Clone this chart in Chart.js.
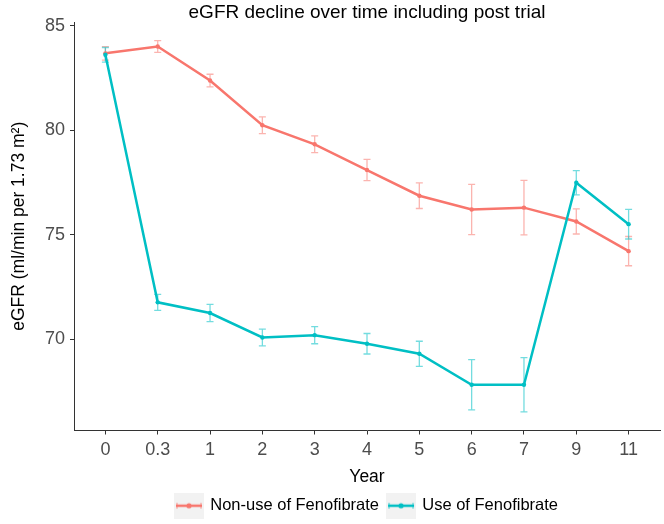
<!DOCTYPE html>
<html>
<head>
<meta charset="utf-8">
<script src="https://cdn.jsdelivr.net/npm/chart.js@4/dist/chart.umd.min.js"></script>
<style>
  html, body { margin: 0; padding: 0; background: #ffffff; }
  #wrap { width: 664px; height: 524px; }
</style>
</head>
<body>
<div id="wrap"><canvas id="c" width="664" height="524"></canvas></div>
<script>
// ---- data ----
const years = ['0', '0.3', '1', '2', '3', '4', '5', '6', '7', '9', '11'];
const nonUse = [83.67, 84.0, 82.37, 80.23, 79.32, 78.09, 76.86, 76.2, 76.29, 75.63, 74.21];
const nonUseErr = [0.32, 0.28, 0.3, 0.4, 0.4, 0.51, 0.61, 1.2, 1.3, 0.6, 0.7];
const useFeno = [83.6, 71.76, 71.25, 70.08, 70.19, 69.78, 69.3, 67.82, 67.82, 77.48, 75.5];
const useFenoErr = [0.35, 0.38, 0.41, 0.4, 0.41, 0.49, 0.6, 1.2, 1.3, 0.58, 0.71];
const yTicks = [70, 75, 80, 85];
const seriesNames = ['Non-use of Fenofibrate', 'Use of Fenofibrate'];

const RED = '#F8766D';
const TEAL = '#00BFC4';
const FONT = "'Liberation Sans', Arial, sans-serif";

function keyIcon(color) {
  const c = document.createElement('canvas');
  c.width = 30; c.height = 26;
  const g = c.getContext('2d');
  g.fillStyle = '#F2F2F2';
  g.fillRect(0, 0, 30, 26);
  g.strokeStyle = color;
  g.lineWidth = 2.5;
  g.beginPath(); g.moveTo(2, 13); g.lineTo(28, 13); g.stroke();
  g.globalAlpha = 0.6;
  g.lineWidth = 1.2;
  g.beginPath(); g.moveTo(3, 10); g.lineTo(3, 16); g.moveTo(27, 10); g.lineTo(27, 16); g.stroke();
  g.globalAlpha = 1;
  g.fillStyle = color;
  g.beginPath(); g.arc(15, 13, 2.6, 0, Math.PI * 2); g.fill();
  return c;
}
const icons = [keyIcon(RED), keyIcon(TEAL)];

function toPoints(vals) { return vals.map((v, i) => ({ x: i, y: v })); }

const errorBars = {
  id: 'errorBars',
  beforeDatasetsDraw(chart) {
    const ctx = chart.ctx;
    const ys = chart.scales.y;
    chart.data.datasets.forEach((ds, di) => {
      const meta = chart.getDatasetMeta(di);
      ctx.save();
      ctx.strokeStyle = ds.errColor;
      ctx.lineWidth = 1.3;
      meta.data.forEach((pt, j) => {
        const v = ds.data[j].y, e = ds.err[j];
        const y1 = ys.getPixelForValue(v + e);
        const y2 = ys.getPixelForValue(v - e);
        const x = pt.x;
        ctx.beginPath();
        ctx.moveTo(x, y1); ctx.lineTo(x, y2);
        ctx.moveTo(x - 3.5, y1); ctx.lineTo(x + 3.5, y1);
        ctx.moveTo(x - 3.5, y2); ctx.lineTo(x + 3.5, y2);
        ctx.stroke();
      });
      ctx.restore();
    });
  }
};

const centerBlocks = {
  id: 'centerBlocks',
  afterLayout(chart) {
    const a = chart.chartArea;
    if (chart.titleBlock) { chart.titleBlock.left = a.left; chart.titleBlock.right = a.right; }
    if (chart.legend) { chart.legend.left = a.left; chart.legend.right = a.right; }
  }
};

new Chart(document.getElementById('c'), {
  type: 'line',
  data: {
    datasets: [
      {
        label: seriesNames[0],
        data: toPoints(nonUse),
        err: nonUseErr,
        errColor: 'rgba(248,118,109,0.55)',
        borderColor: RED,
        backgroundColor: RED,
        pointBackgroundColor: RED,
        pointStyle: 'circle',
        borderWidth: 2.5,
        pointRadius: 2.2,
        pointBorderWidth: 0,
        tension: 0,
        order: 1
      },
      {
        label: seriesNames[1],
        data: toPoints(useFeno),
        err: useFenoErr,
        errColor: 'rgba(0,191,196,0.55)',
        borderColor: TEAL,
        backgroundColor: TEAL,
        pointBackgroundColor: TEAL,
        pointStyle: 'circle',
        borderWidth: 2.5,
        pointRadius: 2.2,
        pointBorderWidth: 0,
        tension: 0,
        order: 0
      }
    ]
  },
  options: {
    responsive: false,
    animation: false,
    devicePixelRatio: 1,
    layout: { padding: { left: 0, right: 2, top: 0, bottom: 0 } },
    scales: {
      x: {
        type: 'linear',
        min: -0.6,
        max: 10.6,
        afterBuildTicks: (s) => { s.ticks = years.map((_, i) => ({ value: i })); },
        afterFit: (s) => { s.height = 58; },
        ticks: {
          callback: (v) => years[v],
          font: { family: FONT, size: 18 },
          color: '#4D4D4D',
          padding: 5,
          maxRotation: 0,
          autoSkip: false
        },
        grid: { drawOnChartArea: false, drawTicks: true, tickLength: 4, tickColor: '#333333', tickWidth: 1 },
        border: { display: true, color: '#333333', width: 1 },
        title: {
          display: true,
          text: 'Year',
          font: { family: FONT, size: 17.5 },
          color: '#000000',
          padding: { top: 0, bottom: 1 }
        }
      },
      y: {
        min: 65.63,
        max: 85.17,
        afterBuildTicks: (s) => { s.ticks = yTicks.map(v => ({ value: v })); },
        afterFit: (s) => { s.width = 74; },
        ticks: {
          font: { family: FONT, size: 18 },
          color: '#4D4D4D',
          padding: 5
        },
        grid: { drawOnChartArea: false, drawTicks: true, tickLength: 4, tickColor: '#333333', tickWidth: 1 },
        border: { display: true, color: '#333333', width: 1 },
        title: {
          display: true,
          text: 'eGFR (ml/min per 1.73 m²)',
          font: { family: FONT, size: 17.5 },
          color: '#000000',
          padding: { top: 9, bottom: 0 }
        }
      }
    },
    plugins: {
      title: {
        display: true,
        text: 'eGFR decline over time including post trial',
        font: { family: FONT, size: 19, weight: 'normal', lineHeight: 1 },
        color: '#000000',
        padding: { top: 3, bottom: 0 }
      },
      legend: {
        display: true,
        position: 'bottom',
        labels: {
          usePointStyle: true,
          pointStyleWidth: 26,
          boxHeight: 16,
          font: { family: FONT, size: 16.5 },
          color: '#000000',
          padding: 9,
          generateLabels: (chart) => chart.data.datasets.map((ds, i) => ({
            text: ds.label,
            pointStyle: icons[i],
            fillStyle: ds.borderColor,
            strokeStyle: ds.borderColor,
            lineWidth: 0,
            hidden: false,
            datasetIndex: i,
            fontColor: '#000000'
          }))
        }
      },
      tooltip: { enabled: false }
    }
  },
  plugins: [errorBars, centerBlocks]
});
</script>
</body>
</html>
